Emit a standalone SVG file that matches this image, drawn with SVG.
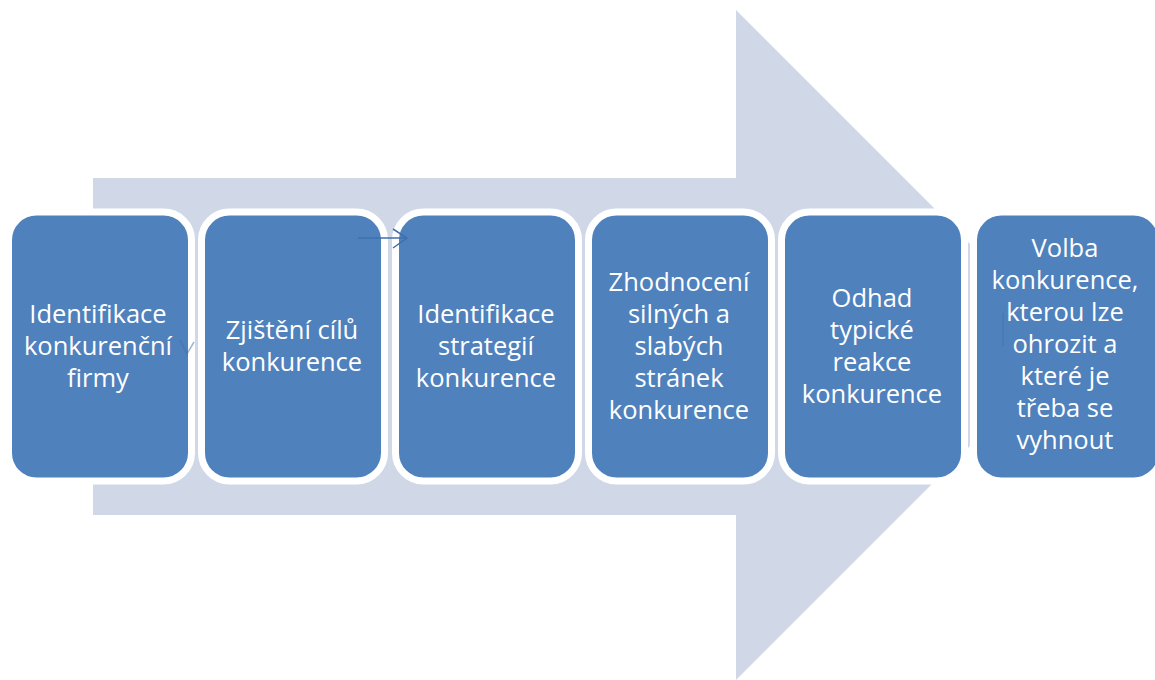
<svg xmlns="http://www.w3.org/2000/svg" width="1155" height="680" viewBox="0 0 1155 680">
<style>
.box{fill:#4F81BD;stroke:#FFFFFF;stroke-width:7}
.lbl{font-family:"Open Sans","Liberation Sans",sans-serif;font-size:25.5px;fill:#FFFFFF;text-anchor:middle}
.con{fill:none;stroke:#3F6FAE;stroke-width:1.5}
</style>
<rect width="1155" height="680" fill="#FFFFFF"/>
<polygon id="bigArrow" points="93,178 736,178 736,10 1071,345 736,680 736,515 93,515" fill="#D0D8E8"/>
<g id="node1"><rect class="box" x="8.5" y="212" width="183" height="269" rx="28"/>
<text class="lbl"><tspan x="98" y="323">Identifikace</tspan><tspan x="98" y="355">konkurenční</tspan><tspan x="98" y="387">firmy</tspan></text></g>
<g id="node2"><rect class="box" x="201.5" y="212" width="183" height="269" rx="28"/>
<text class="lbl"><tspan x="292" y="339">Zjištění cílů</tspan><tspan x="292" y="371">konkurence</tspan></text></g>
<g id="node3"><rect class="box" x="395.5" y="212" width="183" height="269" rx="28"/>
<text class="lbl"><tspan x="486" y="323">Identifikace</tspan><tspan x="486" y="355">strategií</tspan><tspan x="486" y="387">konkurence</tspan></text></g>
<g id="node4"><rect class="box" x="588.5" y="212" width="183" height="269" rx="28"/>
<text class="lbl"><tspan x="679" y="291">Zhodnocení</tspan><tspan x="679" y="323">silných a</tspan><tspan x="679" y="355">slabých</tspan><tspan x="679" y="387">stránek</tspan><tspan x="679" y="419">konkurence</tspan></text></g>
<g id="node5"><rect class="box" x="781.5" y="212" width="183" height="269" rx="28"/>
<text class="lbl"><tspan x="872" y="307">Odhad</tspan><tspan x="872" y="339">typické</tspan><tspan x="872" y="371">reakce</tspan><tspan x="872" y="403">konkurence</tspan></text></g>
<g id="node6"><rect class="box" x="973.5" y="212" width="188" height="269" rx="28"/>
<text class="lbl"><tspan x="1065" y="257">Volba</tspan><tspan x="1065" y="289">konkurence,</tspan><tspan x="1065" y="321">kterou lze</tspan><tspan x="1065" y="353">ohrozit a</tspan><tspan x="1065" y="385">které je</tspan><tspan x="1065" y="417">třeba se</tspan><tspan x="1065" y="449">vyhnout</tspan></text></g>
<g id="connectors">
<path class="con" d="M180,340 L187,354 L194,342" stroke-opacity="0.5"/>
<path class="con" d="M358,238 L407,238 M393,229 L407,238 L393,248"/>
<path class="con" d="M1003,313 L1003,346" stroke-opacity="0.4"/>
</g>
</svg>
